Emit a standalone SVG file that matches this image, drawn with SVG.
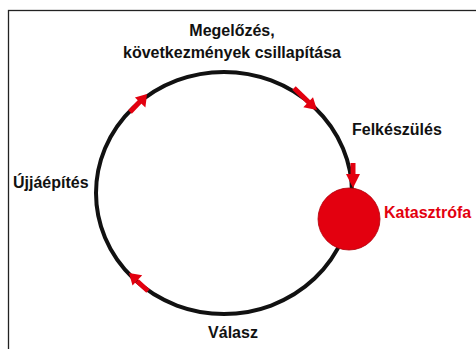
<svg xmlns="http://www.w3.org/2000/svg" width="476" height="349" viewBox="0 0 476 349">
<style>
.lbl{font-family:"Liberation Sans",Arial,sans-serif;font-weight:bold;font-size:16px;fill:#111}
.red{fill:#e3000f}
.arr{stroke:#e3000f;stroke-width:5;fill:none}
</style>
<rect x="0" y="0" width="476" height="349" fill="#fff"/>
<rect x="8.5" y="10.5" width="480" height="350" fill="none" stroke="#222" stroke-width="1.3"/>
<g id="connectors">
<ellipse cx="224" cy="193" rx="128" ry="121" fill="none" stroke="#111" stroke-width="4"/>
<line class="arr" x1="130" y1="112" x2="140" y2="101.5"/>
<polygon class="red" points="147,94 145.4,107.4 134.9,97.6"/>
<line class="arr" x1="294" y1="88" x2="309" y2="102.5"/>
<polygon class="red" points="317,110 303.3,107.3 313.0,97.2"/>
<line class="arr" x1="353" y1="163" x2="353" y2="177"/>
<polygon class="red" points="353,188 346,174 360,174"/>
<line class="arr" x1="148" y1="291" x2="137" y2="281"/>
<polygon class="red" points="129,273 142.2,275.2 132.5,285.4"/>
</g>
<g id="katasztrofa">
<circle cx="349" cy="219" r="31" fill="#e3000f" stroke="#b0000a" stroke-width="0.8"/>
<text class="lbl red" x="384" y="218">Katasztrófa</text>
</g>
<g id="megelozes">
<text class="lbl" x="232" y="36" text-anchor="middle">Megelőzés,</text>
<text class="lbl" x="232" y="58" text-anchor="middle">következmények csillapítása</text>
</g>
<g id="felkeszules"><text class="lbl" x="352" y="135">Felkészülés</text></g>
<g id="ujjaepites"><text class="lbl" x="13" y="188">Újjáépítés</text></g>
<g id="valasz"><text class="lbl" x="233" y="338" text-anchor="middle">Válasz</text></g>
</svg>
